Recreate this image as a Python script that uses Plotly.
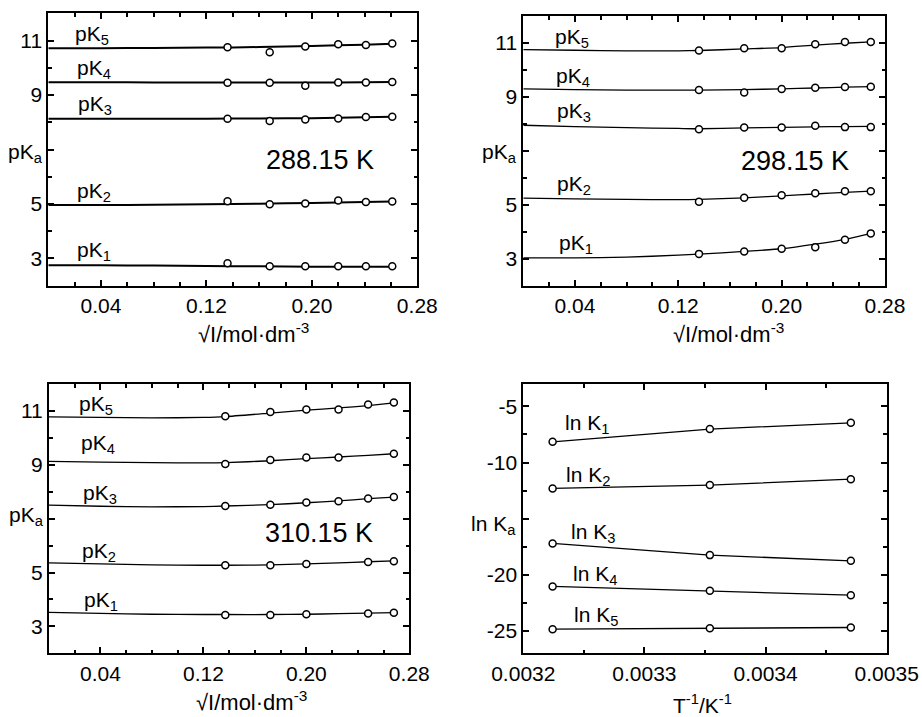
import plotly.graph_objects as go

W, H = 922, 717

# ---------------- data ----------------
# 288.15 K
x288 = [0.136, 0.168, 0.195, 0.220, 0.241, 0.261]
pk288 = {
    "pK5": [10.75, 10.57, 10.78, 10.86, 10.84, 10.89],
    "pK4": [9.45, 9.45, 9.34, 9.46, 9.46, 9.48],
    "pK3": [8.13, 8.05, 8.10, 8.14, 8.19, 8.20],
    "pK2": [5.10, 4.99, 5.02, 5.13, 5.07, 5.09],
    "pK1": [2.82, 2.71, 2.71, 2.71, 2.71, 2.71],
}
cx288 = [0.0, 0.04, 0.08, 0.12, 0.16, 0.20, 0.24, 0.261]
fit288 = {
    "pK5": [10.72, 10.72, 10.73, 10.74, 10.76, 10.80, 10.85, 10.88],
    "pK4": [9.47, 9.47, 9.46, 9.46, 9.46, 9.46, 9.47, 9.48],
    "pK3": [8.13, 8.13, 8.13, 8.13, 8.14, 8.15, 8.18, 8.20],
    "pK2": [4.96, 4.96, 4.97, 4.99, 5.01, 5.04, 5.07, 5.09],
    "pK1": [2.75, 2.75, 2.74, 2.72, 2.71, 2.70, 2.70, 2.70],
}

# 298.15 K
x298 = [0.136, 0.171, 0.200, 0.226, 0.249, 0.269]
pk298 = {
    "pK5": [10.72, 10.80, 10.80, 10.95, 11.04, 11.04],
    "pK4": [9.26, 9.16, 9.29, 9.34, 9.37, 9.38],
    "pK3": [7.80, 7.87, 7.87, 7.93, 7.88, 7.88],
    "pK2": [5.11, 5.26, 5.35, 5.43, 5.50, 5.50],
    "pK1": [3.18, 3.27, 3.37, 3.43, 3.70, 3.94],
}
cx298 = [0.0, 0.04, 0.08, 0.12, 0.136, 0.171, 0.200, 0.226, 0.249, 0.269]
fit298 = {
    "pK5": [10.75, 10.73, 10.71, 10.71, 10.72, 10.78, 10.83, 10.92, 10.99, 11.04],
    "pK4": [9.30, 9.27, 9.25, 9.25, 9.25, 9.27, 9.30, 9.33, 9.36, 9.38],
    "pK3": [7.95, 7.90, 7.86, 7.83, 7.82, 7.85, 7.87, 7.89, 7.90, 7.91],
    "pK2": [5.25, 5.22, 5.20, 5.19, 5.20, 5.26, 5.33, 5.40, 5.46, 5.51],
    "pK1": [3.03, 3.03, 3.06, 3.13, 3.17, 3.27, 3.37, 3.54, 3.72, 3.93],
}

# 310.15 K
x310 = [0.137, 0.172, 0.200, 0.225, 0.248, 0.268]
pk310 = {
    "pK5": [10.80, 10.96, 11.05, 11.05, 11.24, 11.31],
    "pK4": [9.03, 9.18, 9.27, 9.27, None, 9.41],
    "pK3": [7.47, 7.52, 7.60, 7.65, 7.75, 7.80],
    "pK2": [5.27, 5.27, 5.32, None, 5.39, 5.42],
    "pK1": [3.42, 3.42, 3.45, None, 3.48, 3.51],
}
cx310 = [0.0, 0.04, 0.08, 0.12, 0.137, 0.172, 0.200, 0.225, 0.248, 0.268]
fit310 = {
    "pK5": [10.78, 10.76, 10.74, 10.76, 10.79, 10.92, 11.03, 11.11, 11.20, 11.30],
    "pK4": [9.13, 9.10, 9.08, 9.07, 9.08, 9.15, 9.23, 9.29, 9.35, 9.41],
    "pK3": [7.50, 7.46, 7.44, 7.45, 7.47, 7.52, 7.59, 7.66, 7.74, 7.80],
    "pK2": [5.36, 5.32, 5.28, 5.27, 5.27, 5.28, 5.32, 5.36, 5.40, 5.43],
    "pK1": [3.52, 3.48, 3.45, 3.44, 3.44, 3.44, 3.45, 3.47, 3.49, 3.51],
}

# ln K vs 1/T
invT = [0.0032242, 0.0033540, 0.0034704]
lnK = {
    "lnK1": [-8.15, -7.02, -6.46],
    "lnK2": [-12.31, -12.01, -11.48],
    "lnK3": [-17.21, -18.25, -18.76],
    "lnK4": [-21.04, -21.43, -21.82],
    "lnK5": [-24.85, -24.76, -24.70],
}

# label positions (data coordinates)
lab288 = {"pK5": (0.019, 11.31), "pK4": (0.020, 10.05), "pK3": (0.021, 8.74),
          "pK2": (0.020, 5.56), "pK1": (0.020, 3.37)}
lab298 = {"pK5": (0.023, 11.28), "pK4": (0.024, 9.85), "pK3": (0.0245, 8.55),
          "pK2": (0.0245, 5.83), "pK1": (0.026, 3.65)}
lab310 = {"pK5": (0.022, 11.34), "pK4": (0.023, 9.90), "pK3": (0.025, 8.03),
          "pK2": (0.024, 5.88), "pK1": (0.026, 4.05)}
labln = {"lnK1": (0.003233, -6.34), "lnK2": (0.003234, -10.94), "lnK3": (0.003238, -15.99),
         "lnK4": (0.003239, -19.79), "lnK5": (0.003240, -23.40)}

temps = ["288.15 K", "298.15 K", "310.15 K"]
temp_pos = [(0.206, 6.60), (0.210, 6.62), (0.210, 6.48)]

# ---------------- figure ----------------
FONT = "Liberation Sans, Arial, sans-serif"
fig = go.Figure()

# panel boxes in pixels: (x0, x1, y0, y1) measured from top-left
boxes = [(48.3, 417.3, 13.3, 285.7),
         (523.3, 885.0, 16.0, 285.7),
         (49.0, 409.3, 384.0, 653.3),
         (523.3, 886.7, 384.0, 653.3)]


def dom(b):
    x0, x1, y0, y1 = b
    return [x0 / W, x1 / W], [1 - y1 / H, 1 - y0 / H]


marker = dict(symbol="circle", size=7, color="white", line=dict(color="black", width=1.5))

panels = [(x288, pk288, cx288, fit288, 2.0), (x298, pk298, cx298, fit298, 1.3),
          (x310, pk310, cx310, fit310, 1.3)]
for i, (xs, pk, cx, fit, lw) in enumerate(panels):
    ax = "" if i == 0 else str(i + 1)
    for k in pk:
        fig.add_trace(go.Scatter(x=cx, y=fit[k], mode="lines", line=dict(color="black", width=lw, shape="spline", smoothing=0.6),
                                 xaxis="x" + ax, yaxis="y" + ax, showlegend=False, hoverinfo="skip"))
        fig.add_trace(go.Scatter(x=xs, y=pk[k], mode="markers", marker=marker,
                                 xaxis="x" + ax, yaxis="y" + ax, showlegend=False))

for k in lnK:
    fig.add_trace(go.Scatter(x=invT, y=lnK[k], mode="lines+markers", marker=marker,
                             line=dict(color="black", width=1.3),
                             xaxis="x4", yaxis="y4", showlegend=False))

axis_common = dict(showline=True, linecolor="black", linewidth=2, mirror="allticks",
                   ticks="inside", ticklen=6, tickwidth=1.5, tickcolor="black",
                   showgrid=False, zeroline=False, automargin=False,
                   tickfont=dict(family=FONT, size=21, color="black"))

layout = dict(width=W, height=H, margin=dict(l=0, r=0, t=0, b=0, autoexpand=False),
              paper_bgcolor="white", plot_bgcolor="white", showlegend=False,
              font=dict(family=FONT, color="black"))

for i in range(3):
    ax = "" if i == 0 else str(i + 1)
    xd, yd = dom(boxes[i])
    layout["xaxis" + ax] = dict(axis_common, domain=xd, range=[0, 0.28], anchor="y" + ax,
                                tickvals=[0.04, 0.12, 0.20, 0.28], ticktext=["0.04", "0.12", "0.20", "0.28"],
                                minor=dict(tick0=0, dtick=0.02, ticks="inside", ticklen=3.5,
                                           tickwidth=1.5, tickcolor="black"))
    layout["yaxis" + ax] = dict(axis_common, domain=yd, range=[2, 12], anchor="x" + ax,
                                tickvals=[3, 5, 7, 9, 11], ticktext=["3", "5", "", "9", "11"],
                                minor=dict(tick0=0, dtick=1, ticks="inside", ticklen=3.5,
                                           tickwidth=1.5, tickcolor="black"))
xd, yd = dom(boxes[3])
layout["xaxis4"] = dict(axis_common, domain=xd, range=[0.0032, 0.0035], anchor="y4",
                        tickvals=[0.0032, 0.0033, 0.0034, 0.0035],
                        ticktext=["0.0032", "0.0033", "0.0034", "0.0035"],
                        minor=dict(tick0=0.0032, dtick=0.00005, ticks="inside", ticklen=3.5,
                                   tickwidth=1.5, tickcolor="black"))
layout["yaxis4"] = dict(axis_common, domain=yd, range=[-27, -3], anchor="x4",
                        tickvals=[-25, -20, -15, -10, -5], ticktext=["-25", "-20", "", "-10", "-5"],
                        minor=dict(tick0=0, dtick=2.5, ticks="inside", ticklen=3.5,
                                   tickwidth=1.5, tickcolor="black"))

ann = []
labsets = [lab288, lab298, lab310]
for i, labs in enumerate(labsets):
    ax = "" if i == 0 else str(i + 1)
    for k, (lx, ly) in labs.items():
        ann.append(dict(x=lx, y=ly, xref="x" + ax, yref="y" + ax, text="pK<sub>%s</sub>" % k[-1],
                        showarrow=False, xanchor="left", yanchor="middle", yshift=-3,
                        font=dict(family=FONT, size=21, color="black")))
    tx, ty = temp_pos[i]
    ann.append(dict(x=tx, y=ty, xref="x" + ax, yref="y" + ax, text=temps[i], showarrow=False,
                    xanchor="center", yanchor="middle", font=dict(family=FONT, size=27, color="black")))
for k, (lx, ly) in labln.items():
    ann.append(dict(x=lx, y=ly, xref="x4", yref="y4", text="ln K<sub>%s</sub>" % k[-1],
                    showarrow=False, xanchor="left", yanchor="middle", yshift=-3,
                    font=dict(family=FONT, size=21, color="black")))

# axis titles (pixel positions)
xtitles = [(253, 333, "√I/mol·dm<sup>-3</sup>", 22), (728, 333, "√I/mol·dm<sup>-3</sup>", 22),
           (251, 701, "√I/mol·dm<sup>-3</sup>", 22), (702, 704, "T<sup>-1</sup>/K<sup>-1</sup>", 21)]
for px, py, t, fs in xtitles:
    ann.append(dict(x=px / W, y=1 - py / H, xref="paper", yref="paper", text=t, showarrow=False,
                    xanchor="center", yanchor="middle", font=dict(family=FONT, size=fs, color="black")))
ytitles = [(45, 150, "pK<sub>a</sub>"), (519, 150, "pK<sub>a</sub>"),
           (46, 513, "pK<sub>a</sub>"), (518, 522, "ln K<sub>a</sub>")]
for px, py, t in ytitles:
    ann.append(dict(x=px / W, y=1 - py / H, xref="paper", yref="paper", text=t, showarrow=False,
                    xanchor="right", yanchor="middle", yshift=-3, font=dict(family=FONT, size=21, color="black")))

layout["annotations"] = ann
fig.update_layout(**layout)
fig.write_html("out.html", config={"displayModeBar": False},
               post_script="document.body.style.margin='0px';document.body.style.overflow='hidden';")
